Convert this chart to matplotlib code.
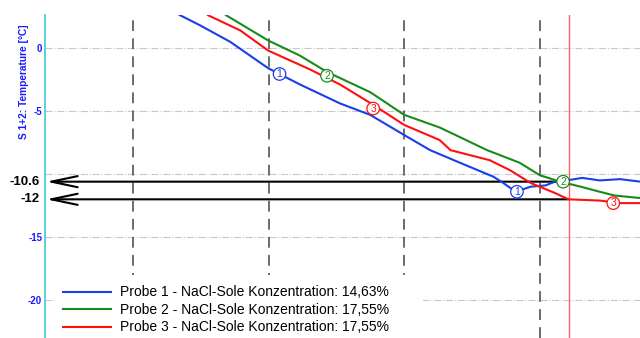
import matplotlib
matplotlib.use('Agg')
import matplotlib.pyplot as plt
from matplotlib.patches import Rectangle

plt.rcParams['font.family'] = ['Liberation Sans', 'DejaVu Sans']

# time axis in hours, temperature in degC
probe1_t = [1.236, 1.347, 1.494, 1.715, 1.996, 2.232, 2.527, 2.748, 2.999, 3.19, 3.41,
            3.655, 3.729, 3.82, 3.93, 4.04, 4.11, 4.2, 4.31, 4.44, 4.59, 4.74]
probe1_temp = [3.4, 2.6, 1.8, 0.5, -1.6, -2.9, -4.4, -5.3, -6.9, -8.1, -9.1,
               -10.2, -10.7, -11.4, -11.0, -10.9, -10.6, -10.5, -10.3, -10.5, -10.4, -10.6]

probe2_t = [1.605, 1.686, 1.996, 2.23, 2.43, 2.748, 2.999, 3.26, 3.61, 3.85, 4.0,
            4.15, 4.30, 4.44, 4.55, 4.74]
probe2_temp = [3.4, 2.6, 0.6, -0.6, -1.9, -3.5, -5.3, -6.3, -8.1, -9.1, -10.1,
               -10.6, -11.0, -11.4, -11.7, -11.9]

probe3_t = [1.48, 1.553, 1.79, 1.996, 2.305, 2.527, 2.77, 2.999, 3.26, 3.34, 3.63,
            3.78, 3.93, 4.11, 4.21, 4.44, 4.59, 4.74]
probe3_temp = [3.4, 2.6, 1.4, -0.2, -1.7, -2.9, -4.5, -6.1, -7.3, -8.1, -8.9,
               -9.7, -10.7, -11.5, -12.0, -12.1, -12.3, -12.3]

series_names = ['Probe 1 - NaCl-Sole Konzentration: 14,63%',
                'Probe 2 - NaCl-Sole Konzentration: 17,55%',
                'Probe 3 - NaCl-Sole Konzentration: 17,55%']
series_colors = ['#1a3ee8', '#1a8a1a', '#ff1010']

# circled markers: (x, y) per probe
marker_pos = [[(2.08, -2.06), (3.83, -11.4)],
              [(2.43, -2.2), (4.17, -10.6)],
              [(2.77, -4.8), (4.54, -12.3)]]

hour_marks = [1, 2, 3, 4]
cursor_t = 4.21
freeze_levels = [-10.6, -12]
freeze_labels = ['-10.6', '-12']
ytick_vals = [0, -5, -10, -15, -20]
ytick_labels = ['0', '-5', '', '-15', '-20']

fig = plt.figure(figsize=(6.4, 3.38), dpi=100)
ax = fig.add_axes([45 / 640, 0, 595 / 640, 323 / 338])
ax.set_xlim(0.351, 4.737)
ax.set_ylim(-23.0, 2.62)

ax.set_yticks(ytick_vals)
ax.set_yticklabels(ytick_labels)
ax.tick_params(axis='y', length=0, pad=2, labelsize=7, labelcolor='#1a1aff')
for lbl in ax.get_yticklabels():
    lbl.set_fontweight('bold')
ax.set_xticks([])
ax.grid(axis='y', linestyle='-.', color='#c8c8c8', linewidth=0.8)
ax.set_axisbelow(True)

for s in ['top', 'right', 'bottom']:
    ax.spines[s].set_visible(False)
ax.spines['left'].set_color('#40c8d8')
ax.spines['left'].set_linewidth(1.2)

for h in hour_marks:
    ax.axvline(h, color='#606060', linestyle=(0, (6, 4)), linewidth=1.3, ymax=0.99, zorder=1)
ax.axvline(cursor_t, color='#ff6060', linewidth=1.0, zorder=1)

for level, text in zip(freeze_levels, freeze_labels):
    ax.annotate('', xy=(0.36, level), xytext=(cursor_t, level),
                arrowprops=dict(arrowstyle='->,head_length=1.9,head_width=0.4',
                                lw=1.5, color='black', shrinkA=0, shrinkB=0),
                zorder=2)
    ax.text(-0.009, level, text, transform=ax.get_yaxis_transform(), ha='right',
            va='center', fontsize=9.5, fontweight='bold', color='black', clip_on=False)

series = [(probe1_t, probe1_temp), (probe2_t, probe2_temp), (probe3_t, probe3_temp)]
for (t, temp), name, color in zip(series, series_names, series_colors):
    ax.plot(t, temp, color=color, linewidth=1.5, label=name, zorder=3)

for i, (pts, color) in enumerate(zip(marker_pos, series_colors)):
    for x, y in pts:
        ax.text(x, y, str(i + 1), color=color, fontsize=7.5, ha='center', va='center',
                zorder=4, bbox=dict(boxstyle='circle,pad=0.12', fc='white', ec=color, lw=0.9))

fig.text(24 / 640, 1 - 82 / 338, 'S 1+2: Temperature [°C]', rotation=90, color='#1a1aff',
         fontsize=7.3, fontweight='bold', ha='center', va='center')

# white panel behind the legend, wider than the text block
ax.add_patch(Rectangle((10 / 595, 0), 368 / 595, 63 / 323, transform=ax.transAxes,
                       facecolor='white', edgecolor='none', zorder=4.5))
leg = ax.legend(loc='lower left', bbox_to_anchor=(10 / 595, -4 / 323), fontsize=10,
                frameon=False, handlelength=3.5, handletextpad=0.6, labelspacing=0.25,
                borderpad=0.55, borderaxespad=0.0)
leg.set_zorder(5)

fig.savefig('out.png', dpi=100)
